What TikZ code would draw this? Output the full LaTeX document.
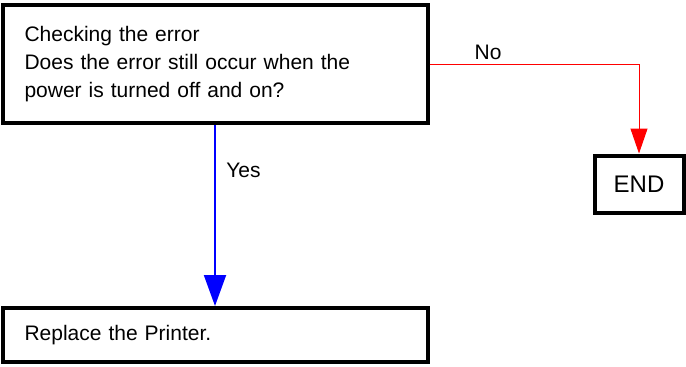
\documentclass[tikz,border=0pt]{standalone}
\usepackage{fontspec}
\setmainfont{Liberation Sans}
\usetikzlibrary{arrows.meta}
\begin{document}
\begin{tikzpicture}[x=1pt,y=-1pt,
        stepbox/.style={draw,line width=4pt,rectangle,inner xsep=22pt,inner ysep=0pt,align=left,font=\fontsize{21}{28}\selectfont},
        yesline/.style={draw=blue,line width=2pt,-{Triangle[width=22pt,length=31pt]}},
        noline/.style={draw=red,line width=1pt,-{Triangle[width=17pt,length=25pt]}},
        lbl/.style={font=\fontsize{21}{25}\selectfont}]
    \useasboundingbox (0,0) rectangle (686,367);
    \node (check) [stepbox,minimum width=425pt,minimum height=118pt,text width=381pt] at (215,64)
        {Checking the error\\Does the error still occur when the\\power is turned off and on?};
    \node (replace) [stepbox,minimum width=425pt,minimum height=54pt,text width=381pt] at (215,335)
        {Replace the Printer.};
    \node (end) [stepbox,minimum width=89pt,minimum height=57pt,inner xsep=0pt,align=center,font=\fontsize{24}{28}\selectfont] at (639,184) {END};
    \draw[yesline] (check.south) -- node[lbl,pos=0.25,anchor=west,xshift=7pt] {Yes} (replace.north);
    \draw[noline] (check.east) -| node[lbl,pos=0.14,above] {No} (end.north);
\end{tikzpicture}
\end{document}
